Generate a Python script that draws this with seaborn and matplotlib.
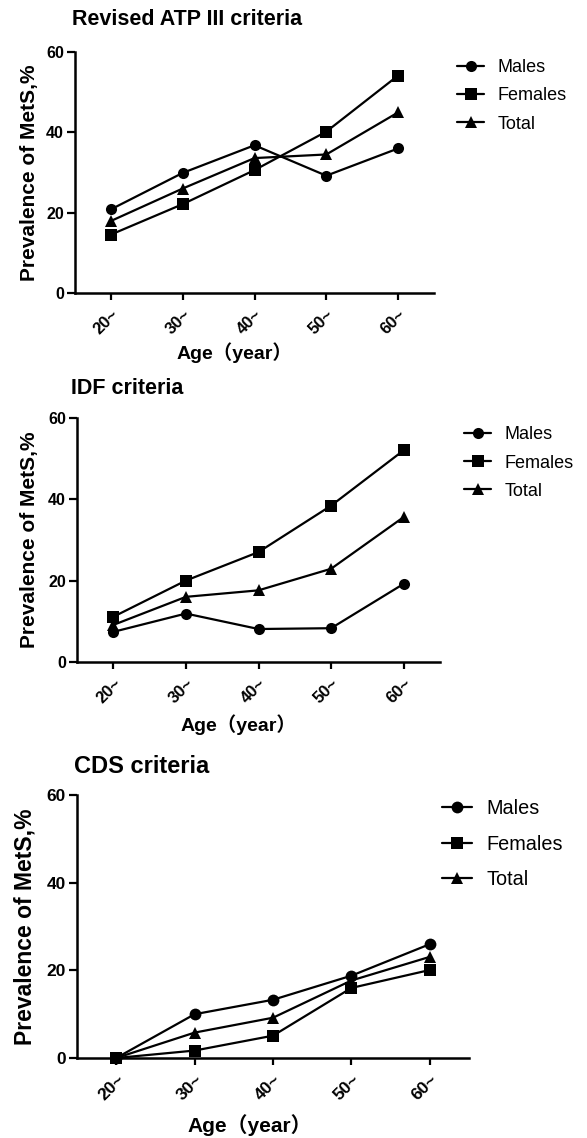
import matplotlib
matplotlib.use("Agg")
import matplotlib.pyplot as plt
import seaborn as sns
import pandas as pd

sns.set_theme(style="ticks")
plt.rcParams['font.family'] = ['Liberation Sans', 'Noto Sans CJK SC', 'DejaVu Sans']
for k in ["text.color", "axes.labelcolor", "xtick.color", "ytick.color", "axes.edgecolor"]:
    plt.rcParams[k] = "black"

ages = ["20~", "30~", "40~", "50~", "60~"]
groups = ["Males", "Females", "Total"]

atp_males = [20.8, 29.9, 36.8, 29.2, 36.0]
atp_females = [14.5, 22.1, 30.6, 40.2, 54.2]
atp_total = [17.9, 26.0, 33.6, 34.5, 45.0]

idf_males = [7.4, 11.9, 8.1, 8.3, 19.2]
idf_females = [11.1, 20.0, 27.0, 38.4, 52.0]
idf_total = [9.1, 16.0, 17.6, 22.9, 35.6]

cds_males = [0.0, 10.0, 13.3, 18.8, 26.0]
cds_females = [0.0, 1.7, 5.1, 16.0, 20.1]
cds_total = [0.0, 5.8, 9.2, 17.7, 23.1]

titles = ["Revised ATP III criteria", "IDF criteria", "CDS criteria"]
yticks = [0, 20, 40, 60]
ylabel = "Prevalence of MetS,%"
xlabel = "Age\uff08year\uff09"

panels = [
    (atp_males, atp_females, atp_total),
    (idf_males, idf_females, idf_total),
    (cds_males, cds_females, cds_total),
]

W, H = 587, 1138
fig = plt.figure(figsize=(W / 100, H / 100), dpi=100)

# pixel layout: (left, right, top, bottom)
rects = [(75, 434, 52.3, 292.7), (77, 440, 417.7, 662.0), (77, 469, 795.3, 1058.0)]
title_pos = [(72, 25), (71, 394), (74, 773)]
legend_pos = [(457, 96), (464, 463), (442, 844)]
legend_fs = [13, 13, 14.3]
legend_sp = [0.62, 0.62, 0.82]
title_fs = [15.5, 15.5, 17]
ytick_fs = [11.5, 11.5, 12.5]
xtick_fs = [12, 12, 12.5]
ylab_fs = [15, 15, 16.5]
xlab_fs = [14, 14, 15]
ylab_x = [30, 30, 25]
xlab_cx = [234, 238, 250]
xlab_cy = [353, 725, 1125]
msize = [8, 8, 8.5]

markers = {"Males": "o", "Females": "s", "Total": "^"}

for i, (vals, rect) in enumerate(zip(panels, rects)):
    l, r, t, b = rect
    ax = fig.add_axes([l / W, 1 - b / H, (r - l) / W, (b - t) / H])
    rows = []
    for g, v in zip(groups, vals):
        for a, y in zip(ages, v):
            rows.append({"age": a, "val": y, "group": g})
    df = pd.DataFrame(rows)
    df["pos"] = df["age"].map({a: k for k, a in enumerate(ages)})
    sns.lineplot(data=df, x="pos", y="val", style="group", markers=markers, dashes=False,
                 color="black", linewidth=1.6, markersize=msize[i], markeredgewidth=0,
                 ax=ax, legend=True, clip_on=False, sort=False)
    handles, labels = ax.get_legend_handles_labels()
    ax.get_legend().remove()
    ax.set_xlim(-0.5, 4.5)
    ax.set_ylim(0, 60)
    ax.set_yticks(yticks)
    ax.set_yticklabels([str(v) for v in yticks], fontsize=ytick_fs[i], fontweight="bold")
    ax.set_xticks(range(len(ages)))
    ax.set_xticklabels(ages, rotation=45, ha="right", rotation_mode="anchor",
                       fontsize=xtick_fs[i], fontweight="bold")
    ax.tick_params(axis="both", direction="out", length=5.5, width=1.6, pad=2.5)
    ax.tick_params(axis="x", length=5, pad=5)
    sns.despine(ax=ax)
    for s in ["left", "bottom"]:
        ax.spines[s].set_linewidth(1.8)
    ax.set_ylabel(ylabel, fontsize=ylab_fs[i], fontweight="bold", va="center")
    ax.yaxis.set_label_coords((ylab_x[i] - l) / (r - l), 0.5)
    ax.set_xlabel(xlabel, fontsize=xlab_fs[i], fontweight="bold", va="center")
    ax.xaxis.set_label_coords((xlab_cx[i] - l) / (r - l), (b - xlab_cy[i]) / (b - t))
    tx, ty = title_pos[i]
    fig.text(tx / W, 1 - ty / H, titles[i], fontsize=title_fs[i], fontweight="bold",
             ha="left", va="baseline")
    lx, ly = legend_pos[i]
    fig.legend(handles, labels, loc="center left", bbox_to_anchor=(lx / W, 1 - ly / H),
               frameon=False, fontsize=legend_fs[i], handlelength=1.5, handletextpad=0.75,
               labelspacing=legend_sp[i], borderaxespad=0, borderpad=0)

fig.savefig("out.png", dpi=100, facecolor="white")
